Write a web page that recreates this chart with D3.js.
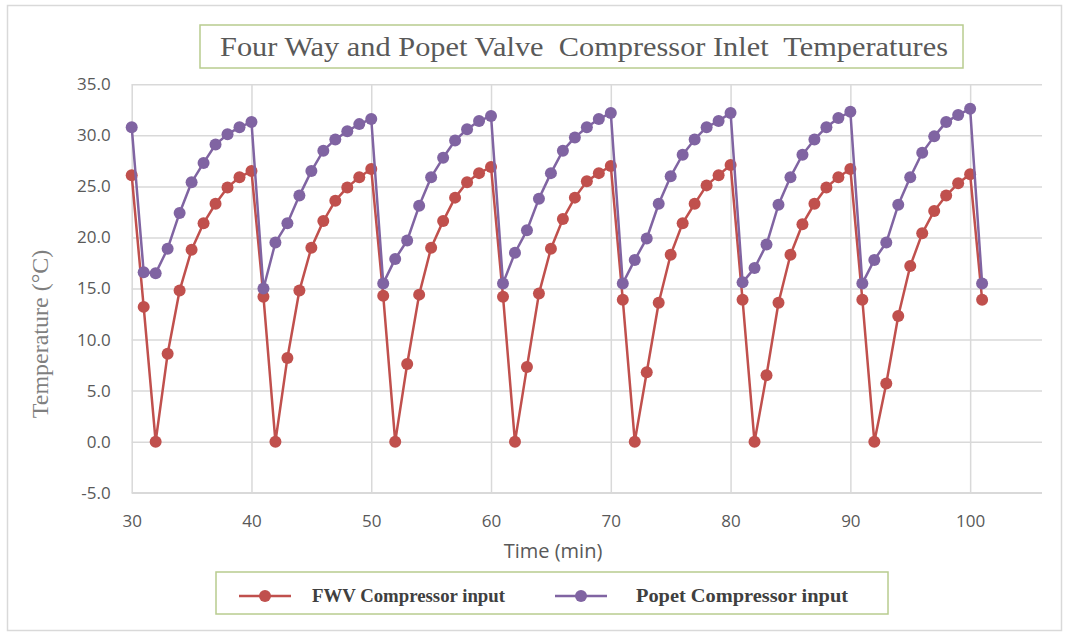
<!DOCTYPE html>
<html>
<head>
<meta charset="utf-8">
<script src="https://cdn.jsdelivr.net/npm/d3@7"></script>
<style>
  html, body { margin: 0; padding: 0; background: #ffffff; }
  svg { display: block; }
</style>
</head>
<body>
<svg id="chart" width="1074" height="633"></svg>
<script>
// Time in minutes, one reading per minute
const minutes = d3.range(30, 102);

// Four-way valve (FWV) compressor inlet temperature, °C
const fwvTemps = [
  26.1, 13.2, 0.0, 8.6, 14.8, 18.8, 21.4, 23.3, 24.9, 25.9, 26.5,
  14.2, 0.0, 8.2, 14.8, 19.0, 21.6, 23.6, 24.9, 25.9, 26.7,
  14.3, 0.0, 7.6, 14.4, 19.0, 21.6, 23.9, 25.4, 26.3, 26.9,
  14.2, 0.0, 7.3, 14.5, 18.9, 21.8, 23.9, 25.5, 26.3, 27.0,
  13.9, 0.0, 6.8, 13.6, 18.3, 21.4, 23.3, 25.1, 26.1, 27.1,
  13.9, 0.0, 6.5, 13.6, 18.3, 21.3, 23.3, 24.9, 25.9, 26.7,
  13.9, 0.0, 5.7, 12.3, 17.2, 20.4, 22.6, 24.1, 25.3, 26.2,
  13.9
];

// Poppet valve compressor inlet temperature, °C
const popetTemps = [
  30.8, 16.6, 16.5, 18.9, 22.4, 25.4, 27.3, 29.1, 30.1, 30.8, 31.3,
  15.0, 19.5, 21.4, 24.1, 26.5, 28.5, 29.6, 30.4, 31.1, 31.6,
  15.5, 17.9, 19.7, 23.1, 25.9, 27.8, 29.5, 30.6, 31.4, 31.9,
  15.5, 18.5, 20.7, 23.8, 26.3, 28.5, 29.8, 30.8, 31.6, 32.2,
  15.5, 17.8, 19.9, 23.3, 26.0, 28.1, 29.6, 30.8, 31.4, 32.2,
  15.6, 17.0, 19.3, 23.2, 25.9, 28.1, 29.6, 30.8, 31.7, 32.3,
  15.5, 17.8, 19.5, 23.2, 25.9, 28.3, 29.9, 31.3, 32.0, 32.6,
  15.5
];

const xTicks = [30, 40, 50, 60, 70, 80, 90, 100];
const yTicks = [-5, 0, 5, 10, 15, 20, 25, 30, 35];

const seriesNames = ["FWV Compressor input", "Popet Compressor input"];
const seriesColors = ["#c0504d", "#8064a2"];

const svg = d3.select("#chart");

// outer frame
svg.append("rect")
  .attr("x", 7.5).attr("y", 5.5).attr("width", 1054).attr("height", 625)
  .attr("fill", "#ffffff").attr("stroke", "#d9d9d9").attr("stroke-width", 1.5);

const plot = { left: 131.7, right: 1042, top: 84.3, bottom: 492.7 };

const x = d3.scaleLinear().domain([30, 106]).range([plot.left, plot.right]);
const y = d3.scaleLinear().domain([-5, 35]).range([plot.bottom, plot.top]);

const tickFont = "'Open Sans', 'Liberation Sans', sans-serif";

// horizontal gridlines and y tick labels
const yAxis = d3.axisLeft(y)
  .tickValues(yTicks)
  .tickSize(-(plot.right - plot.left))
  .tickPadding(21)
  .tickFormat(d => d.toFixed(1));

const gy = svg.append("g").attr("transform", `translate(${plot.left},0)`).call(yAxis);
gy.select(".domain").remove();
gy.selectAll(".tick line").attr("stroke", "#d9d9d9").attr("stroke-width", 1.5);
gy.selectAll(".tick text")
  .attr("fill", "#595959")
  .style("font-family", tickFont)
  .style("font-size", "17px");

// vertical gridlines and x tick labels
const xAxis = d3.axisBottom(x)
  .tickValues(xTicks)
  .tickSize(-(plot.bottom - plot.top))
  .tickPadding(22);

const gx = svg.append("g").attr("transform", `translate(0,${plot.bottom})`).call(xAxis);
gx.select(".domain").attr("stroke", "#d9d9d9").attr("stroke-width", 1.5)
  .attr("d", `M${plot.left},0H${plot.right}`);
gx.selectAll(".tick line").attr("stroke", "#d9d9d9").attr("stroke-width", 1.5);
gx.selectAll(".tick text")
  .attr("fill", "#595959")
  .style("font-family", tickFont)
  .style("font-size", "17px");

// axis titles
svg.append("text")
  .attr("x", 553).attr("y", 558)
  .attr("text-anchor", "middle")
  .attr("fill", "#595959")
  .style("font-family", tickFont)
  .style("font-size", "20px")
  .text("Time (min)");

svg.append("text")
  .attr("transform", "translate(48,334) rotate(-90)")
  .attr("text-anchor", "middle")
  .attr("fill", "#7f7f7f")
  .style("font-family", "'Liberation Serif', 'Times New Roman', serif")
  .style("font-size", "24px")
  .text("Temperature (\u00B0C)");

// series
const allSeries = [fwvTemps, popetTemps];
const line = d3.line()
  .x((d, i) => x(minutes[i]))
  .y(d => y(d));

allSeries.forEach((vals, si) => {
  const g = svg.append("g");
  g.append("path")
    .datum(vals)
    .attr("d", line)
    .attr("fill", "none")
    .attr("stroke", seriesColors[si])
    .attr("stroke-width", 2.5)
    .attr("stroke-linejoin", "round");
  g.selectAll("circle")
    .data(vals)
    .join("circle")
    .attr("cx", (d, i) => x(minutes[i]))
    .attr("cy", d => y(d))
    .attr("r", 6)
    .attr("fill", seriesColors[si]);
});

// title box
svg.append("rect")
  .attr("x", 200).attr("y", 25).attr("width", 763).attr("height", 43)
  .attr("fill", "#ffffff").attr("stroke", "#b8cc8f").attr("stroke-width", 1.5);
svg.append("text")
  .attr("x", 220).attr("y", 56)
  .attr("fill", "#595959")
  .style("font-family", "'Liberation Serif', 'Times New Roman', serif")
  .style("font-size", "28px")
  .style("white-space", "pre")
  .attr("textLength", 728)
  .attr("lengthAdjust", "spacingAndGlyphs")
  .text("Four Way and Popet Valve  Compressor Inlet  Temperatures");

// legend box
svg.append("rect")
  .attr("x", 216).attr("y", 572).attr("width", 672).attr("height", 42)
  .attr("fill", "#ffffff").attr("stroke", "#b8cc8f").attr("stroke-width", 1.5);

const legendItems = [
  { lx: 239, tx: 312, len: 193 },
  { lx: 555, tx: 636, len: 212 }
];
legendItems.forEach((it, i) => {
  svg.append("line")
    .attr("x1", it.lx).attr("x2", it.lx + 52)
    .attr("y1", 596).attr("y2", 596)
    .attr("stroke", seriesColors[i]).attr("stroke-width", 2.5);
  svg.append("circle")
    .attr("cx", it.lx + 26).attr("cy", 596).attr("r", 6)
    .attr("fill", seriesColors[i]);
  svg.append("text")
    .attr("x", it.tx).attr("y", 602)
    .attr("fill", "#404040")
    .style("font-family", "'Liberation Serif', 'Times New Roman', serif")
    .style("font-size", "18px")
    .style("font-weight", "bold")
    .attr("textLength", it.len)
    .attr("lengthAdjust", "spacingAndGlyphs")
    .text(seriesNames[i]);
});
</script>
</body>
</html>
